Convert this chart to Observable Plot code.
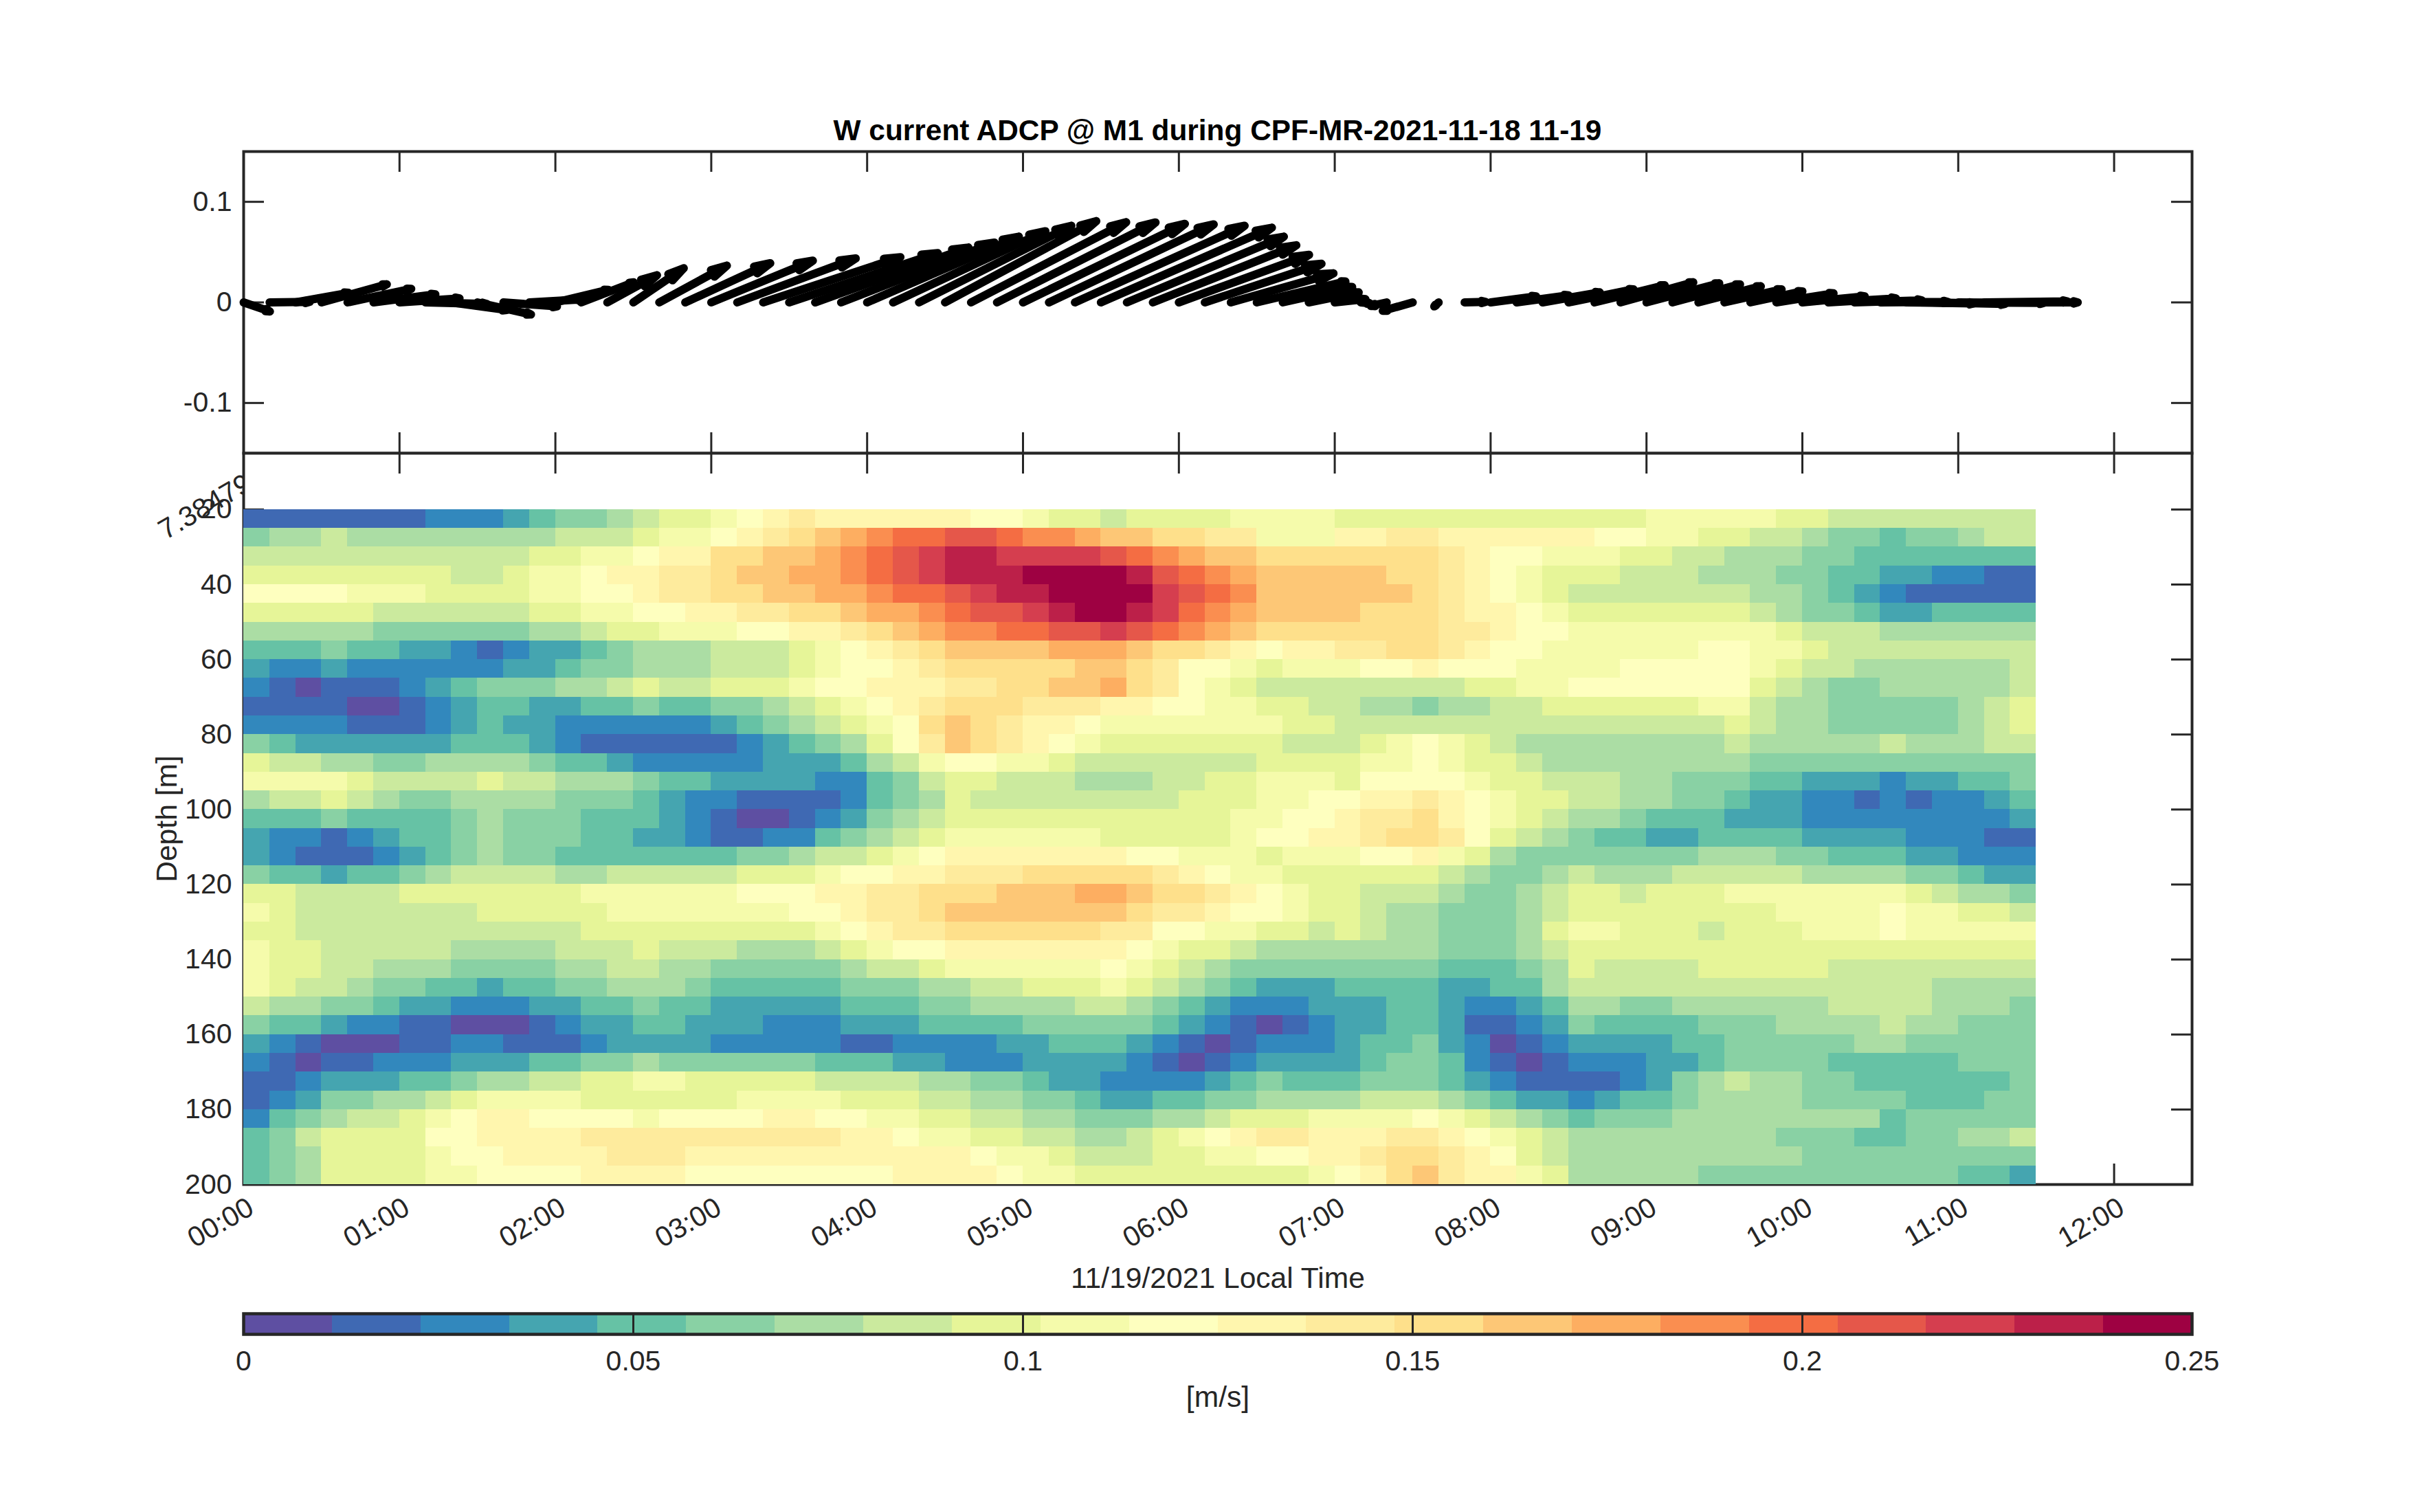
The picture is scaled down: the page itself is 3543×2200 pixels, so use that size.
<!DOCTYPE html>
<html><head><meta charset="utf-8">
<script src="https://cdn.jsdelivr.net/npm/d3@7"></script>
<script src="https://cdn.jsdelivr.net/npm/@observablehq/plot@0.6"></script>
<style>
html,body{margin:0;padding:0;background:#fff}
#page{position:relative;width:3543px;height:2200px;overflow:hidden;font-family:"Liberation Sans",sans-serif;color:#262626}
#page>div{position:absolute;left:0}
#title{top:166px;width:3543px;text-align:center;font-weight:700;font-size:42.4px;color:#000;line-height:48px}
</style></head><body>
<div id="page">
<div id="title">W current ADCP @ M1 during CPF-MR-2021-11-18 11-19</div>
<div id="quiver" style="top:150px"></div>
<div id="heat" style="top:640px"></div>
<div id="bar" style="top:1880px"></div>
</div>
<script>
const INK="#262626";
const hourTicks=[0,60,120,180,240,300,360,420,480,540,600,660,720];
const hourLabels=["00:00","01:00","02:00","03:00","04:00","05:00","06:00","07:00","08:00","09:00","10:00","11:00","12:00"];
const depthTicks=[20,40,60,80,100,120,140,160,180,200];
const speedTicks=[0,0.05,0.1,0.15,0.2,0.25];
const speedLabels=["0","0.05","0.1","0.15","0.2","0.25"];
const vTicks=[-0.1,0,0.1];
const vLabels=["-0.1","0","0.1"];
const palette=["#5e4fa2","#3f69b3","#3288bd","#45a5b0","#66c2a5","#89d1a4","#abdda4","#cbea9e","#e6f598","#f5fbab","#feffbf","#fff6ae","#feeb9d","#fee08b","#fdc776","#fdae61","#fa8e50","#f46d43","#e5574a","#d53e4f","#bc2049","#9e0142"];
// one character per colour level (base 22), one string per 5 m depth row, one char per 10 minutes
const speedLevels=[
"1111111 222 3 4 55 6 7 88 9 a b c bbbbbb aa 9 88 7 8888 9999 888888888888 99999 88 77777777",
"5 66 7 66666666 777 8 99 a b c d e f g hh ii h gg f ee dd cc 999 bb cc bbbbbb aa 99 88 77 6 55 4 55 6 77",
"77777777777 88 99 a bb d d e e f g h i j kk jjjj i h g f ee ddd dddd c b aa 999 88 77 666 55 4444444",
"88888888 77 8 99 a bb cc d e e f f g h i j kkk llll k i h g f eee ee dd c b a 9 888 777 666 55 44 33 22 11",
"aaaa 999 8888 99 aa b cc dd e e ff g hh i j kk llll j i h g eee eee d c b a 9 8 7777777 66 5 4 3 2 11111",
"88888 777777 88 99 aa bb cc dd e ff g h ii j k ll k j h g f eee e ddd c bb a 9 8888888 7 6 55 4 33 4444",
"66666 555555 66 7 88 999 aa bb c d e f gg hh ii j i h g f e ddd dddd cc b aa 99999999 8 777 666666",
"444 5 44 33 2 1 2 33 4 5 666 777 8 9 a b c d eeee fff e dd c b a bb cc dd c b aa 999999 aa 99 8 77777777",
"3 22 3 222222 33 4 55 666 777 8 9 aa b c ddddd ee d c aa 9 8 99 9 aa b aaa 9999 aaaaa 9 8 77 66 6666 7",
"2 1 0 111 2 3 4 555 66 7 8 77 888 9 aa bbb cc dd ee f d c a 9 8 777 77777 88 99 aaaaaaa 8 7 6 55 66666 7",
"1111 00 1 2 3 44 33 44 5 44 55 6 7 8 9 a b c ddd ccc bb aa 99 88 7 7 66 5 66 77 888888 99 7 66 55 555 6 7 8",
"2222 111 2 3 4 33 222222 3 4 5 6 7 8 9 a d e d c bb a 9999999 88 777777777777777 8 7 66 55 555 6 7 8",
"5 4 333333 444 3 2 111111 2 3 4 5 6 8 a c e d c b a 9 8888888 77 7 8 9 a 9 8 7 66666666 7 66666 7 666 77",
"8 77 66 55 6666 5 44 3 22222 3 33 4 6 7 9 a a 99 8 7777777 888 8 99 a 9 88 7 66666666 55555555555",
"9999 8 7777 8 77 666 5 44 333 3 22 4 5 7 88 777 666 77 88 999 8 aaaa 9 88 777 66 555 44 333 2 33 44 5",
"6 77 8 7 6 55 6666 555 4 3 22 11 11 2 4 5 6 8 77777777 888 99 a a bb c b a 9 88 77 66 55 4 33 22 1 2 1 22 3 4",
"444 5 4444 5 6 555 444 3 2 1 00 1 2 3 5 6 7 88888888888 99 aa b cc d b a 9 8 7 66 5 444 333 22222222 3",
"3 22 1 2 3 44 5 6 555 44 33 2 11 2 2 4 5 6 7 8 999999 88888 9 aa b b c dd c a 8 7 6 5 44 33 4444 333 3 222 11",
"3 2 111 2 3 4 5 6 55 4444444 55 6 77 8 9 a bbbbbbb aa 999 8 99 9 aa b 9 8 6 5555555 666 55 444 33 222",
"5 44 3 44 5 6 7777 66 77777 888 9 aa bb ccc ddddd c b a 99 88 8888 7 6 55 6 7 666 77777 6666 55 4 33",
"88 7777 8888888 999999 aa a bb cc ddd eee ff e dd c b a 9 8 8 777 6 55 6 7 88 7 888 9999999 8 7 66 5",
"9 8 7777777 88888 9999999 aa b cc d eeeeeee d cc b aa 9 8 8 7 66 555 6 7 88888888 9999 a 99 88 7",
"88 77777777777 888888888 9 a b cc dddddd cc a a 99 88 7 8 7 66 555 6 8 99 888 7 888 999 a 99999",
"9 88 77777 6666 777 8 777 666 7 8 9 aa bbbbbbb a 9 88 7 666 6666 555 6 7 888888888888888888",
"9 88 77 666 5555 66 77 66 555 55 6 77 8 999999 a 9 8 7 6 5555 5555 444 5 6 8 7777 88888 77777777",
"9 8 77 6 55 44 3 44 55 666 5 444 44 555 66 77 888 9 8 7 6 5 4 333 4444 33 44 6 77777777777777 6666",
"7 66 55 4 33 222 33 44 5 44 333 33 444 55 6666 77 6 5 4 3 222 3 33 44 3 22 3 4 66 55 666666 77 77 666 5",
"5 44 3 22 11 000 1 2 33 44 333 2 22 333 4444 55555 4 3 2 1 0 1 2 33 44 3 11 2 3 5 4444 555 6666 7 66 555",
"3 2 1 000 11 22 111 2 3333 222 22 11 2222 33 444 3 2 1 0 1 222 3 44 5 3 2 0 1 2 3333 44 55555 66 55555",
"2 1 0 11 222 333 44 55 6 55555 5 444 33 222 3333 2 1 0 1 2 333 3 4 55 4 2 1 0 1 222 33 4 5555 44444 555",
"11 2 333 44 5 66 77 88 99 8888 8 7777 66 55 4 33 2222 3 4 5 44 4 555 4 3 2 1111 2 3 5 6 7 66 55 44 4444 5",
"1 2 3 55 66 7 8 9999 888888 9999 888 77 66 55 4 33 44 55 666 6 777 6 5 4 33 2 3 44 5 6666 555 5 444 55",
"2 4 5 6 77 8 9 a bb aaaa 9 aaaa b b aa 99 88 77 66 555 66 7 888 9 999 a 9 8 7 6 5 4 555 66666666 4 55555",
"4 5 7 8888 a a bbbb cccccccc cc bb a 99 88 77 66 7 8 9 a b cc b bb cc b a 9 8 7 66666666 555 44 55 66 7",
"4 5 6 8888 9 aa bbbb ccc bbb bbbbbbbb a 99 8 777 88 99 aa b b c dd c b a 8 7 666666666 555555555",
"4 5 6 8888 99 aaaa bbbb aaaa aaaa bbbb a 99 888888888 9 a b d e c bb 9 8 66666 5555555 555 44 3"
];
// arrow vectors, one per 10 minutes: eastward length drawn in minutes of the time axis, northward part in m/s
const arrowDx=[10.1,15.4,20.4,25.1,24.5,23.8,23.1,23.6,21.3,20.6,20.6,20.8,20.4,20.1,19.1,19.4,26,32.7,39.1,45.6,52.8,57.2,59,59,58.4,58.6,58.6,58.2,59.7,61,62.3,63.4,65.3,65.8,60.4,55.2,50.1,44.9,39.5,34.1,26.7,19.2,11.8,3.4,-6.1,-11.5,-1.7,8.1,17.5,20,22,25,27,28,28,26,24,22,20,22,24,26,26,26,26,28,33,32,26];
const arrowV=[-0.009,0.0005,0.0095,0.018,0.0135,0.008,0.004,-0.0015,-0.0075,-0.012,-0.004,0.003,0.0125,0.02,0.027,0.034,0.0365,0.039,0.0415,0.0438,0.045,0.049,0.0546,0.0595,0.0654,0.0708,0.0762,0.0808,0.0797,0.0795,0.0781,0.0776,0.0762,0.0743,0.0654,0.0568,0.0473,0.0384,0.0289,0.0208,0.0154,0.01,0.0032,-0.0008,-0.0035,-0.0084,-0.004,0.0005,0.006,0.007,0.01,0.013,0.017,0.02,0.019,0.018,0.016,0.013,0.011,0.009,0.006,0.004,0.002,0.0005,-0.001,-0.0015,-0.0005,0.001,0];

const nLevels=palette.length, vMax=0.25;
const levelValue=l=>(l+0.5)*vMax/nLevels;
const thresholds=d3.range(1,nLevels).map(i=>i*vMax/nLevels);
const colorScale={type:"threshold",domain:thresholds,range:palette};
const cells=speedLevels.flatMap((s,r)=>[...s.replace(/\s/g,"")].map((ch,k)=>({t1:k*10,t2:(k+1)*10,d1:20+5*r,d2:25+5*r,v:levelValue(parseInt(ch,22))})));
const arrows=arrowDx.map((dx,k)=>({t1:k*10,t2:k*10+dx,v:arrowV[k]}));
const longArrows=arrows.filter(a=>Math.abs(a.v)>=0.025);
const shortArrows=arrows.filter(a=>Math.abs(a.v)<0.025);
const bar=palette.map((c,i)=>({a:i*vMax/nLevels,b:(i+1)*vMax/nLevels,v:levelValue(i)}));

const ML=354,MR=354,TICK=30,LABEL_SIZE=42.6;
const base={width:3543,marginLeft:ML,marginRight:MR,style:{background:"transparent",fontFamily:"'Liberation Sans',sans-serif",fontSize:"41px",color:INK,overflow:"visible"}};
const xDom=[0,750];

// top panel
const qH=520,qT=70,qB=11,qIn=qH-qT-qB-TICK,qWide=3543-ML-MR-TICK;
const arrowStyle={x1:"t1",y1:()=>0,x2:"t2",y2:"v",bend:0,stroke:"#000",strokeWidth:12,strokeLinecap:"round",strokeLinejoin:"round"};
document.getElementById("quiver").append(Plot.plot({...base,height:qH,marginTop:qT,marginBottom:qB,
  x:{domain:xDom,axis:null},y:{domain:[-0.15,0.15],axis:null},
  marks:[
    Plot.frame({stroke:INK,strokeWidth:4}),
    Plot.ruleX(hourTicks.slice(1),{stroke:INK,strokeWidth:3,insetBottom:qIn}),
    Plot.ruleX(hourTicks.slice(1),{stroke:INK,strokeWidth:3,insetTop:qIn}),
    Plot.ruleY(vTicks,{stroke:INK,strokeWidth:3,insetRight:qWide}),
    Plot.ruleY(vTicks,{stroke:INK,strokeWidth:3,insetLeft:qWide}),
    Plot.axisY(vTicks,{anchor:"left",tickSize:0,tickPadding:17,tickFormat:(d,i)=>vLabels[i],label:null,fill:INK}),
    Plot.arrow(longArrows,{...arrowStyle,headLength:3,headAngle:26}),
    Plot.arrow(shortArrows,{...arrowStyle,headLength:0.8,headAngle:30})
  ]}));

// heat panel
const hH=1240,hT=19,hB=hH-19-1064,hIn=1064-TICK,hWide=3543-ML-MR-TICK;
document.getElementById("heat").append(Plot.plot({...base,height:hH,marginTop:hT,marginBottom:hB,
  x:{domain:xDom,axis:null},y:{domain:[5,200],reverse:true,axis:null},color:colorScale,
  marks:[
    Plot.text(["7.38479"],{x:[2.1],y:[12.5],rotate:-30,textAnchor:"end",fill:INK}),
    Plot.frame({fill:"white",stroke:INK,strokeWidth:4}),
    Plot.ruleX(hourTicks.slice(1),{stroke:INK,strokeWidth:3,insetBottom:hIn}),
    Plot.ruleX(hourTicks.slice(1),{stroke:INK,strokeWidth:3,insetTop:hIn}),
    Plot.ruleY(depthTicks,{stroke:INK,strokeWidth:3,insetRight:hWide}),
    Plot.ruleY(depthTicks,{stroke:INK,strokeWidth:3,insetLeft:hWide}),
    Plot.rect(cells,{x1:"t1",x2:"t2",y1:"d1",y2:"d2",fill:"v",shapeRendering:"crispEdges"}),
    Plot.axisY(depthTicks,{anchor:"left",tickSize:0,tickPadding:17,label:null,fill:INK}),
    Plot.axisY([],{anchor:"left",tickSize:0,label:"Depth [m]",labelAnchor:"center",labelArrow:"none",labelOffset:128,fill:INK,fontSize:LABEL_SIZE}),
    Plot.axisX(hourTicks,{anchor:"bottom",tickSize:0,tickPadding:20,tickRotate:-30,dx:11,dy:10,tickFormat:(d,i)=>hourLabels[i],label:null,fill:INK}),
    Plot.axisX([],{anchor:"bottom",tickSize:0,label:"11/19/2021 Local Time",labelAnchor:"center",labelArrow:"none",labelOffset:150,fill:INK,fontSize:LABEL_SIZE})
  ]}));

// colour bar
const bH=200,bT=31,bB=139;
document.getElementById("bar").append(Plot.plot({...base,height:bH,marginTop:bT,marginBottom:bB,
  x:{domain:[0,vMax],axis:null},y:{axis:null},color:colorScale,
  marks:[
    Plot.rectX(bar,{x1:"a",x2:"b",fill:"v",shapeRendering:"crispEdges"}),
    Plot.ruleX(speedTicks.slice(1,-1),{stroke:INK,strokeWidth:3}),
    Plot.frame({stroke:INK,strokeWidth:4.5}),
    Plot.axisX(speedTicks,{anchor:"bottom",tickSize:0,tickPadding:23,tickFormat:(d,i)=>speedLabels[i],label:null,fill:INK}),
    Plot.axisX([],{anchor:"bottom",tickSize:0,label:"[m/s]",labelAnchor:"center",labelArrow:"none",labelOffset:105,fill:INK,fontSize:LABEL_SIZE})
  ]}));
</script>
</body></html>
